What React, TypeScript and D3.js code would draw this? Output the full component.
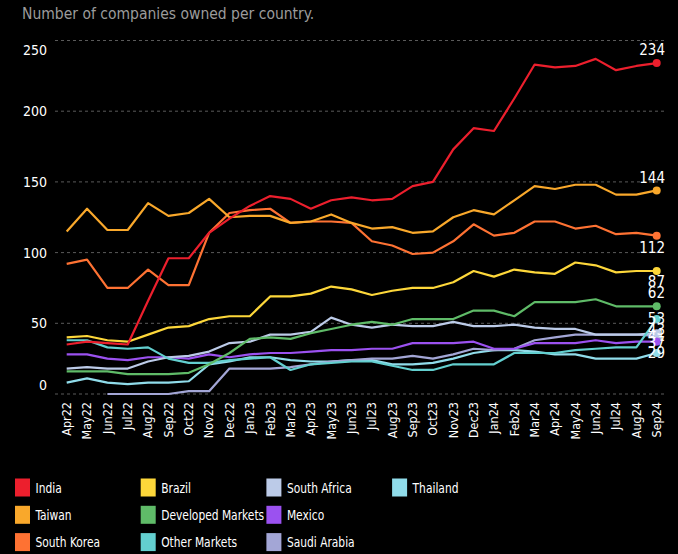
import React from "react";
import * as d3 from "d3";

// months on the x axis
const months = [
  "Apr22", "May22", "Jun22", "Jul22", "Aug22", "Sep22", "Oct22", "Nov22", "Dec22", "Jan23",
  "Feb23", "Mar23", "Apr23", "May23", "Jun23", "Jul23", "Aug23", "Sep23", "Oct23", "Nov23",
  "Dec23", "Jan24", "Feb24", "Mar24", "Apr24", "May24", "Jun24", "Jul24", "Aug24", "Sep24",
];

const india = [35, 37, 36, 35, 66, 96, 96, 114, 124, 133, 140, 138, 131, 137, 139, 137, 138, 147, 150, 173, 188, 186, 209, 233, 231, 232, 237, 229, 232, 234];
const taiwan = [115, 131, 116, 116, 135, 126, 128, 138, 125, 126, 126, 121, 122, 127, 121, 117, 118, 114, 115, 125, 130, 127, 137, 147, 145, 148, 148, 141, 141, 144];
const southKorea = [92, 95, 75, 75, 88, 77, 77, 114, 128, 130, 131, 121, 122, 122, 121, 108, 105, 99, 100, 108, 120, 112, 114, 122, 122, 117, 119, 113, 114, 112];
const brazil = [40, 41, 38, 37, 42, 47, 48, 53, 55, 55, 69, 69, 71, 76, 74, 70, 73, 75, 75, 79, 87, 83, 88, 86, 85, 93, 91, 86, 87, 87];
const developed = [16, 16, 16, 14, 14, 14, 15, 21, 29, 39, 40, 39, 43, 46, 49, 51, 49, 53, 53, 53, 59, 59, 55, 65, 65, 65, 67, 62, 62, 62];
const otherMarkets = [38, 38, 33, 32, 33, 25, 22, 22, 24, 25, 26, 17, 21, 22, 23, 23, 20, 17, 17, 21, 21, 21, 29, 29, 29, 31, 32, 33, 33, 53];
const southAfrica = [18, 19, 18, 18, 23, 26, 27, 30, 36, 37, 42, 42, 44, 54, 49, 47, 49, 48, 48, 51, 48, 48, 49, 47, 46, 46, 42, 42, 42, 43];
const mexico = [28, 28, 25, 24, 26, 26, 25, 28, 26, 28, 29, 29, 30, 31, 31, 32, 32, 36, 36, 36, 37, 32, 32, 36, 36, 36, 38, 36, 37, 37];
const saudiArabia = [null, null, 0, 0, 0, 0, 2, 2, 18, 18, 18, 19, 21, 23, 24, 25, 25, 27, 25, 28, 32, 31, 32, 38, 40, 42, 42, 42, 42, 41];
const thailand = [8, 11, 8, 7, 8, 8, 9, 21, 23, 26, 26, 24, 23, 23, 24, 24, 21, 21, 22, 25, 29, 31, 31, 30, 28, 28, 25, 25, 25, 29];

const seriesNames = ["India", "Taiwan", "South Korea", "Brazil", "Developed Markets", "Other Markets", "South Africa", "Mexico", "Saudi Arabia", "Thailand"];
const seriesValues = [india, taiwan, southKorea, brazil, developed, otherMarkets, southAfrica, mexico, saudiArabia, thailand];
const seriesColors = ["#ec1f2d", "#f9a82b", "#fe7233", "#fdd73a", "#5fbb68", "#63cfcf", "#bccbe8", "#9b51f0", "#a3a6d6", "#90dcea"];
// vertical nudge of the end labels so they don't sit on each other
const labelDy = [-13, -13, 12, 11, -14, 0, -3, 1, 0, 0];

const yTicks = [0, 50, 100, 150, 200, 250];

const W = 678;
const H = 554;
const font = "'DejaVu Sans Condensed', 'DejaVu Sans', sans-serif";

export default function App() {
  const x = d3.scalePoint<string>().domain(months).range([66.7, 656.7]);
  const y = d3.scaleLinear().domain([0, 250]).range([394, 40.5]);

  const line = d3
    .line<number | null>()
    .defined((d) => d != null)
    .x((_, i) => x(months[i]) as number)
    .y((d) => y(d as number));

  const last = months.length - 1;
  const order = d3.range(seriesNames.length).reverse();

  return (
    <div style={{ position: "fixed", left: 0, top: 0, width: W, height: H, background: "#000" }}>
      <svg width={W} height={H} style={{ display: "block", fontFamily: font }}>
        <rect width={W} height={H} fill="#000" />
        <text x={22} y={18.5} fill="#9b9b9b" fontSize={15.5}>
          Number of companies owned per country.
        </text>

        {/* grid + y labels */}
        {yTicks.map((t, i) => {
          const shift = i === 0 ? -9 : i === yTicks.length - 1 ? 10 : 0;
          return (
            <g key={t}>
              <line x1={55} x2={666} y1={y(t)} y2={y(t)} stroke="#5a5a5a" strokeWidth={1} strokeDasharray="3,3" />
              <text x={47} y={y(t) + shift} dy="0.35em" textAnchor="end" fill="#fff" fontSize={14}>
                {t}
              </text>
            </g>
          );
        })}

        {/* x labels */}
        {months.map((m) => (
          <text
            key={m}
            transform={`translate(${x(m)},402) rotate(-90)`}
            textAnchor="end"
            dy="0.35em"
            fill="#fff"
            fontSize={12.5}
          >
            {m}
          </text>
        ))}

        {/* lines */}
        {order.map((k) => (
          <path
            key={seriesNames[k]}
            d={line(seriesValues[k] as (number | null)[]) || ""}
            fill="none"
            stroke={seriesColors[k]}
            strokeWidth={2.2}
            strokeLinejoin="round"
          />
        ))}

        {/* end dots and labels */}
        {order.map((k) => {
          const v = seriesValues[k][last] as number;
          const cx = x(months[last]) as number;
          return (
            <g key={"end" + k}>
              <circle cx={cx} cy={y(v)} r={4} fill={seriesColors[k]} />
              <text x={665} y={y(v) + labelDy[k]} dy="0.35em" textAnchor="end" fill="#fff" fontSize={15}>
                {v}
              </text>
            </g>
          );
        })}

        {/* legend */}
        {seriesNames.map((name, i) => {
          const col = Math.floor(i / 3);
          const row = i % 3;
          const lx = 15 + col * 125.7;
          const ly = 478.5 + row * 27.3;
          return (
            <g key={name} transform={`translate(${lx},${ly})`}>
              <rect width={15} height={18} fill={seriesColors[i]} />
              <text
                transform="translate(20.5,9.5) scale(0.88,1)"
                dy="0.35em"
                fill="#fff"
                fontSize={13.5}
              >
                {name}
              </text>
            </g>
          );
        })}
      </svg>
    </div>
  );
}
